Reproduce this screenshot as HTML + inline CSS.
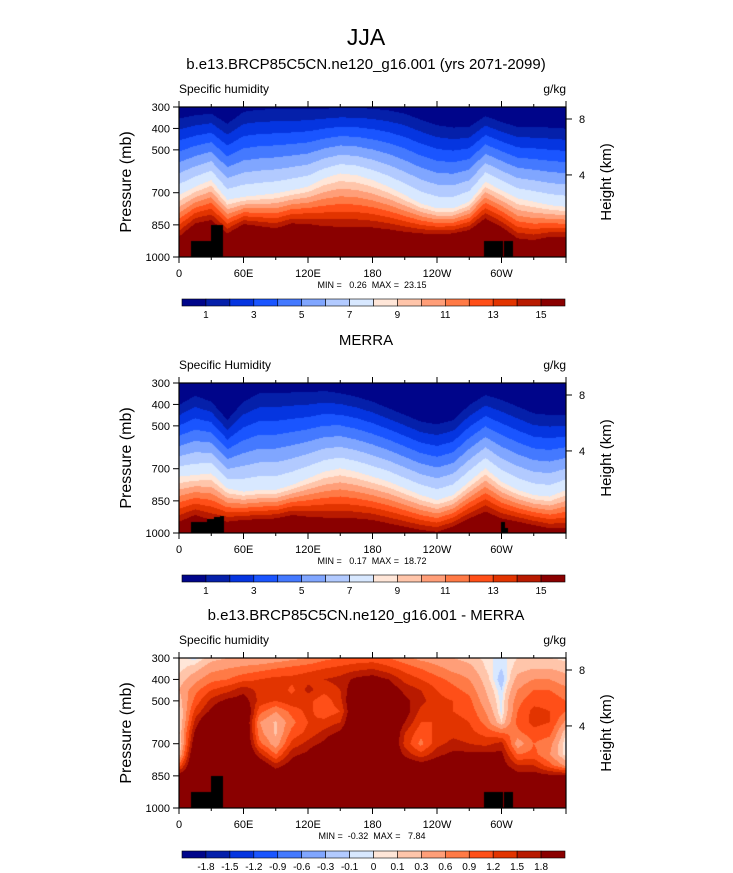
<!DOCTYPE html>
<html><head><meta charset="utf-8">
<style>
html,body{margin:0;padding:0;background:#fff;}
#wrap{position:relative;width:733px;height:873px;overflow:hidden;font-family:"Liberation Sans",Arial,sans-serif;}
canvas{position:absolute;}
svg{position:absolute;left:0;top:0;}
svg text{white-space:pre;}
</style></head>
<body>
<div id="wrap">
<canvas id="c1" width="387" height="150" style="left:179px;top:107px"></canvas>
<canvas id="c2" width="387" height="150" style="left:179px;top:383px"></canvas>
<canvas id="c3" width="387" height="150" style="left:179px;top:658px"></canvas>
<svg id="svg" width="733" height="873" xmlns="http://www.w3.org/2000/svg"></svg>
</div>
<script>
// ---------- data ----------
const lonSamples = [0,15,30,45,60,75,90,105,120,135,150,165,180,195,210,225,240,255,270,285,300,315,330,345,360];
// panel 1 (model): pressure (mb) of q=1, q=8, q=15 contours
const model_p1  = [354,339,331,378,323,312,311,311,310,308,305,305,308,316,331,359,385,396,393,343,370,393,393,396,401];
const model_p8  = [711,672,641,733,719,711,703,688,672,633,610,618,641,672,711,750,773,773,742,649,688,727,742,758,766];
const model_p15 = [905,843,828,890,846,856,866,843,846,856,859,859,862,871,882,890,893,890,874,820,859,913,921,905,905];
// panel 2 (MERRA)
const merra_p1  = [403,359,387,473,387,348,348,344,344,337,348,364,387,418,449,480,493,473,403,356,379,410,442,449,449];
const merra_p8  = [737,729,722,792,807,799,799,776,745,714,698,714,737,760,792,823,846,823,760,698,760,799,823,830,799];
const merra_p15 = [947,916,939,947,939,935,932,916,924,928,928,932,939,955,970,986,994,970,932,900,932,947,963,978,978];
// panel 3 (difference) grid: rows = pressures, cols = lonSamples
const diffPressures = [300,350,400,450,500,550,600,650,700,750,800,850,900,1000];
const diffByLon = [
 [0.05,0.05,0.15,0.3,0.15,0.0,-0.05,0.05,-0.05,0.2,1.0,2.0,2.5,2.5],
 [-0.05,0.2,0.5,0.8,1.0,1.3,1.6,1.9,2.2,2.5,2.5,2.5,2.5,2.5],
 [0.2,0.5,0.8,1.2,1.6,1.9,2.5,2.5,2.5,2.5,2.5,2.5,2.5,2.5],
 [0.3,0.6,0.9,1.4,1.9,2.5,2.5,2.5,2.5,2.5,2.5,2.5,2.5,2.5],
 [0.3,0.7,1.1,1.7,2.0,2.5,2.5,2.5,2.5,2.5,2.5,2.5,2.5,2.5],
 [0.3,0.8,1.2,1.4,1.4,1.0,0.6,0.7,1.0,1.6,2.2,2.5,2.5,2.5],
 [0.4,0.9,1.3,1.5,1.2,0.6,0.25,0.25,0.4,0.9,1.6,2.2,2.5,2.5],
 [0.5,1.0,1.3,1.1,1.4,1.0,0.8,1.0,1.3,1.7,2.0,2.5,2.5,2.5],
 [0.6,1.1,1.4,1.6,1.3,1.3,1.2,1.3,1.6,1.9,2.5,2.5,2.5,2.5],
 [0.8,1.2,1.5,1.3,1.0,1.0,1.3,1.6,1.9,2.5,2.5,2.5,2.5,2.5],
 [0.9,1.3,1.6,1.5,1.4,1.2,1.5,1.9,2.5,2.5,2.5,2.5,2.5,2.5],
 [1.0,1.4,1.9,2.2,2.5,2.5,2.5,2.5,2.5,2.5,2.5,2.5,2.5,2.5],
 [1.0,1.5,2.0,2.5,2.5,2.5,2.5,2.5,2.5,2.5,2.5,2.5,2.5,2.5],
 [0.9,1.3,1.8,2.1,2.5,2.5,2.5,2.5,2.5,2.5,2.5,2.5,2.5,2.5],
 [0.7,1.1,1.4,1.7,1.9,2.0,1.8,1.5,1.4,1.7,2.2,2.5,2.5,2.5],
 [0.5,0.9,1.2,1.5,1.6,1.4,1.2,1.0,0.8,1.3,2.0,2.5,2.5,2.5],
 [0.4,0.7,1.0,1.2,1.3,1.2,1.2,1.3,1.4,1.7,2.1,2.5,2.5,2.5],
 [0.3,0.5,0.8,1.0,1.2,1.2,1.3,1.4,1.6,1.9,2.5,2.5,2.5,2.5],
 [0.2,0.4,0.6,0.8,1.0,1.1,1.2,1.3,1.5,1.9,2.5,2.5,2.5,2.5],
 [0.05,0.1,0.2,0.3,0.4,0.6,0.8,1.1,1.4,1.9,2.5,2.5,2.5,2.5],
 [-0.05,-0.1,-0.2,-0.1,-0.05,-0.05,0.1,0.9,1.6,1.9,2.0,2.2,2.5,2.5],
 [0.1,0.2,0.4,0.6,0.8,0.9,1.0,0.8,0.4,0.9,1.5,2.0,2.5,2.5],
 [0.1,0.3,0.6,0.9,1.1,1.3,1.3,1.1,0.9,1.0,1.5,2.0,2.5,2.5],
 [0.1,0.3,0.6,0.9,1.1,1.2,1.2,1.0,0.7,0.6,1.0,1.9,2.5,2.5],
 [0.05,0.2,0.4,0.7,0.9,0.9,0.5,0.1,-0.05,0.0,0.5,1.9,2.5,2.5]
];
// terrain masks: [lonStart, lonEnd, topPressure]
const terrainModel = [[11,31,925],[30,41,850],[284,301,925],[302,311,925]];
const terrainMerra = [[11,26,950],[26,33,935],[33,38,925],[38,42,920],[300,303,950],[303,306,975]];
// levels and ticks
const humLevels = [1,2,3,4,5,6,7,8,9,10,11,12,13,14,15];
const humLabels = ["1","3","5","7","9","11","13","15"];
const diffLevels = [-1.8,-1.5,-1.2,-0.9,-0.6,-0.3,-0.1,0,0.1,0.3,0.6,0.9,1.2,1.5,1.8];
const diffLabels = ["-1.8","-1.5","-1.2","-0.9","-0.6","-0.3","-0.1","0","0.1","0.3","0.6","0.9","1.2","1.5","1.8"];
const pressureTicks = [300,400,500,700,850,1000];
const heightTicks = [8,4];
const heightTickPressure = [356,617];
const lonTicks = [0,60,120,180,240,300,360];
const lonMinorTicks = [30,90,150,210,270,330];
const lonTickLabels = ["0","60E","120E","180","120W","60W",""];
const palette = ["#00058a","#0520aa","#0535e0","#1a55ff","#4479ff","#80a6ff","#b2caff","#d8e8ff","#ffe6d8","#ffc5aa","#ff9e78","#ff7a46","#ff4f18","#e23400","#b81a00","#8a0000"];

// ---------- scales ----------
const PW=387, PH=150, PX=179;
const xOf = lon => PX + lon/360*PW;
const yOf = (p, top) => top + (p-300)/700*PH;
function lerpArr(arr, lon){
  const f = lon/15, i = Math.min(Math.floor(f), arr.length-2), t=f-i;
  return arr[i]*(1-t)+arr[i+1]*t;
}
function levelIndex(levels, v){ let k=0; for(const l of levels) if(v>=l) k++; return k; }
function hexRGB(h){return [parseInt(h.substr(1,2),16),parseInt(h.substr(3,2),16),parseInt(h.substr(5,2),16)];}
const rgb = palette.map(hexRGB);

function drawHum(id, a1, a8, a15, terrain){
  const cv=document.getElementById(id), ctx=cv.getContext('2d');
  const img=ctx.createImageData(PW,PH);
  for(let x=0;x<PW;x++){
    const lon=(x+0.5)/PW*360;
    const p1=lerpArr(a1,lon), p8=lerpArr(a8,lon), p15=lerpArr(a15,lon);
    for(let y=0;y<PH;y++){
      const p=300+(y+0.5)/PH*700; let q;
      if(p<p1) q=0.5; else if(p<p8) q=1+7*(p-p1)/(p8-p1);
      else if(p<p15) q=8+7*(p-p8)/(p15-p8); else q=16;
      let c=rgb[levelIndex(humLevels,q)];
      for(const t of terrain) if(lon>=t[0]&&lon<t[1]&&p>=t[2]) c=[0,0,0];
      const o=(y*PW+x)*4; img.data[o]=c[0];img.data[o+1]=c[1];img.data[o+2]=c[2];img.data[o+3]=255;
    }
  }
  ctx.putImageData(img,0,0);
}
function drawDiff(id, terrain){
  const cv=document.getElementById(id), ctx=cv.getContext('2d');
  const img=ctx.createImageData(PW,PH);
  for(let x=0;x<PW;x++){
    const lon=(x+0.5)/PW*360;
    const f=lon/15, i=Math.min(Math.floor(f),lonSamples.length-2), t=f-i;
    for(let y=0;y<PH;y++){
      const p=300+(y+0.5)/PH*700;
      let j=0; while(j<diffPressures.length-2 && p>diffPressures[j+1]) j++;
      const u=Math.max(0,Math.min(1,(p-diffPressures[j])/(diffPressures[j+1]-diffPressures[j])));
      const a=diffByLon[i][j]*(1-u)+diffByLon[i][j+1]*u;
      const b=diffByLon[i+1][j]*(1-u)+diffByLon[i+1][j+1]*u;
      const v=a*(1-t)+b*t;
      let c=rgb[levelIndex(diffLevels,v)];
      for(const tr of terrain) if(lon>=tr[0]&&lon<tr[1]&&p>=tr[2]) c=[0,0,0];
      const o=(y*PW+x)*4; img.data[o]=c[0];img.data[o+1]=c[1];img.data[o+2]=c[2];img.data[o+3]=255;
    }
  }
  ctx.putImageData(img,0,0);
}
drawHum('c1',model_p1,model_p8,model_p15,terrainModel);
drawHum('c2',merra_p1,merra_p8,merra_p15,terrainMerra);
drawDiff('c3',terrainModel);

// ---------- svg overlay ----------
const svg=document.getElementById('svg'), NS='http://www.w3.org/2000/svg';
function el(tag, attrs, txt){
  const e=document.createElementNS(NS,tag);
  for(const k in attrs) e.setAttribute(k,attrs[k]);
  if(txt!==undefined) e.textContent=txt;
  svg.appendChild(e); return e;
}
let e;
e=el('text',{x:366,y:45,'font-size':23,'text-anchor':'middle'},'JJA');



function panel(top, title, minmax, pre){
  e=el('text',{x:366,y:top-38,'font-size':15,'text-anchor':'middle'},title);
  
  
  e=el('text',{x:179,y:top-14,'font-size':12},'Specific '+(pre==='merra'?'Humidity':'humidity'));
  
  
  e=el('text',{x:566,y:top-14,'font-size':12,'text-anchor':'end'},'g/kg');
  
  
  e=el('rect',{x:179,y:top,width:PW,height:PH,fill:'none',stroke:'#000','stroke-width':1.2});
  
  
  pressureTicks.forEach(p=>{
    const y=yOf(p,top);
    e=el('line',{x1:173,x2:179,y1:y,y2:y,stroke:'#000'});
    
    
    e=el('text',{x:170,y:y+4,'font-size':11,'text-anchor':'end'},String(p));
    
    
  });
  heightTicks.forEach((h,i)=>{
    const y=yOf(heightTickPressure[i],top);
    e=el('line',{x1:566,x2:572,y1:y,y2:y,stroke:'#000'});
    
    
    e=el('text',{x:582,y:y+4,'font-size':11,'text-anchor':'middle'},String(h));
    
    
  });
  lonTicks.forEach((l,i)=>{
    const x=xOf(l);
    e=el('line',{x1:x,x2:x,y1:top+PH,y2:top+PH+6,stroke:'#000'});
    
    
    e=el('line',{x1:x,x2:x,y1:top-6,y2:top,stroke:'#000'});
    
    
    e=el('text',{x:x,y:top+PH+20,'font-size':11,'text-anchor':'middle'},lonTickLabels[i]);
    
    
  });
  lonMinorTicks.forEach(l=>{
    const x=xOf(l);
    e=el('line',{x1:x,x2:x,y1:top+PH,y2:top+PH+3,stroke:'#000'});
    
    
    e=el('line',{x1:x,x2:x,y1:top-3,y2:top,stroke:'#000'});
    
    
  });
  e=el('text',{x:0,y:0,'font-size':16,'text-anchor':'middle',transform:`translate(131,${top+75}) rotate(-90)`},'Pressure (mb)');
  
  
  e=el('text',{x:0,y:0,'font-size':15,'text-anchor':'middle',transform:`translate(611,${top+75}) rotate(-90)`},'Height (km)');
  
  
  e=el('text',{x:372,y:top+PH+31,'font-size':9,'text-anchor':'middle'},minmax);
  
  
}
function colorbar(y, labels, step, pre){
  const x0=182, w=383/16;
  palette.forEach((c,i)=>{
    e=el('rect',{x:x0+i*w,y:y,width:w,height:7,fill:c,stroke:'#000','stroke-width':0.6});
    
    
  });
  labels.forEach((t,i)=>{
    e=el('text',{x:x0+(1+i*step)*w,y:y+19,'font-size':10,'text-anchor':'middle'},t);
    
    
  });
}
panel(107,'b.e13.BRCP85C5CN.ne120_g16.001 (yrs 2071-2099)','MIN =   0.26  MAX =  23.15','model');
colorbar(299,humLabels,2,'model');
panel(383,'MERRA','MIN =   0.17  MAX =  18.72','merra');
colorbar(575,humLabels,2,'merra');
panel(658,'b.e13.BRCP85C5CN.ne120_g16.001 - MERRA','MIN =  -0.32  MAX =   7.84','diff');
colorbar(851,diffLabels,1,'diff');
</script>
</body></html>
